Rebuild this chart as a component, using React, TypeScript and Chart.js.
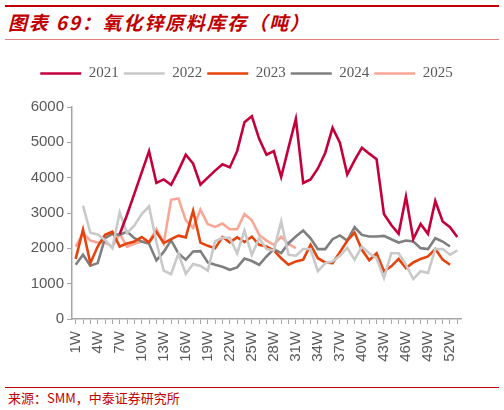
import React, { useEffect, useRef } from "react";
import { Chart, registerables } from "chart.js";

Chart.register(...registerables);

const weeks = [
  "1W","2W","3W","4W","5W","6W","7W","8W","9W","10W",
  "11W","12W","13W","14W","15W","16W","17W","18W","19W","20W",
  "21W","22W","23W","24W","25W","26W","27W","28W","29W","30W",
  "31W","32W","33W","34W","35W","36W","37W","38W","39W","40W",
  "41W","42W","43W","44W","45W","46W","47W","48W","49W","50W",
  "51W","52W","53W",
];

const y2021 = [
  null, null, null, null, null, null, 2400, 2950, 3550, 4150,
  4750, 3850, 3950, 3800, 4200, 4650, 4400, 3800, 4000, 4200,
  4380, 4290, 4750, 5570, 5740, 5100, 4650, 4750, 4020, 4850,
  5660, 3850, 3950, 4260, 4700, 5410, 4990, 4090, 4490, 4850,
  4680, 4520, 2970, 2660, 2410, 3460, 2260, 2690, 2410, 3340,
  2760, 2600, 2320,
];

const y2022 = [
  null, 3210, 2440, 2390, 2240, 2005, 3020, 2430, 2650, 2970,
  3190, 2170, 1370, 1270, 1850, 1280, 1560, 1500, 1370, 2200,
  2300, 2300, 1855, 2500, 1810, 2290, 1980, 1940, 2760, 1820,
  1790, 1980, 1980, 1350, 1580, 1630, 1790, 2010, 1680, 2050,
  1860, 1720, 1160, 1860, 1860, 1535, 1130, 1350, 1300, 1980,
  1980, 1820, 1940,
];

const y2023 = [
  1700, 2530, 1580, 2050, 2380, 2470, 2050, 2140, 2190, 2320,
  2170, 2460, 2150, 2260, 2360, 2310, 3065, 2160, 2070, 2005,
  2320, 2170, 2310, 2180, 2330, 2100, 2050, 1940, 1720, 1535,
  1630, 1680, 2100, 1720, 1600, 1580, 1890, 2215, 2446, 1960,
  1660, 1860, 1350, 1490, 1700, 1440, 1600, 1700, 1770, 1980,
  1680, 1535, null,
];

const y2024 = [
  1535, 1817, 1507, 1582, 2286, 2408, 2380, 2474, 2286, 2192,
  2127, 1657, 1900, 2230, 1855, 1676, 1911, 1920, 1600, 1535,
  1480, 1394, 1460, 1710, 1640, 1535, 1770, 1977, 1864, 2146,
  2333, 2502, 2286, 1977, 1977, 2258, 2365, 2220, 2597, 2380,
  2333, 2333, 2352, 2258, 2164, 2220, 2192, 2005, 1977, 2286,
  2192, 2051, null,
];

const y2025 = [
  2051, 2427, 2220, 2164, 2164, 2051, 2408, 2051, 2127, 2192,
  2192, 2540, 2146, 3375, 3413, 2790, 2580, 3095, 2680, 2605,
  2700, 2540, 2540, 2972, 2795, 2380, 2220, 2099, 2333, 2127,
  2005,
];

const seriesNames = ["2021", "2022", "2023", "2024", "2025"];
const seriesColors = ["#C4003C", "#C9C9C9", "#E6420C", "#7F7F7F", "#F9A696"];

export default function App() {
  const ref = useRef<HTMLCanvasElement | null>(null);

  useEffect(() => {
    document.body.style.margin = "0";
    const canvas = ref.current;
    if (!canvas) return;
    const values = [y2021, y2022, y2023, y2024, y2025];
    const legendSpace = {
      id: "legendSpace",
      beforeInit(chart: any) {
        const orig = chart.legend.fit;
        chart.legend.fit = function () {
          orig.bind(chart.legend)();
          this.height += 16;
        };
      },
      afterLayout(chart: any) {
        const lg = chart.legend;
        lg.left = 0;
        lg.right = 493;
      },
    };
    const chart = new Chart(canvas, {
      type: "line",
      data: {
        labels: weeks,
        datasets: seriesNames.map((n, i) => ({
          label: n,
          data: values[i],
          borderColor: seriesColors[i],
          backgroundColor: seriesColors[i],
          borderWidth: 2.6,
          pointRadius: 0,
          tension: 0,
          spanGaps: false,
        })),
      },
      options: {
        animation: false,
        responsive: false,
        maintainAspectRatio: false,
        layout: { padding: { left: 0, right: 43, top: 11, bottom: 0 } },
        plugins: {
          tooltip: { enabled: false },
          legend: {
            position: "top",
            labels: {
              usePointStyle: true,
              pointStyle: "line",
              pointStyleWidth: 41,
              boxHeight: 10,
              padding: 5,
              color: "#595959",
              font: { family: "'Liberation Serif', 'Times New Roman', serif", size: 15 },
            },
          },
        },
        scales: {
          x: {
            type: "category",
            offset: true,
            afterFit(s: any) {
              s.height = 50;
            },
            grid: {
              display: true,
              drawOnChartArea: false,
              drawTicks: true,
              tickLength: 5,
              color: "#A6A6A6",
              lineWidth: 1,
            },
            border: { display: true, color: "#A6A6A6", width: 1.5 },
            ticks: {
              autoSkip: false,
              maxRotation: 90,
              minRotation: 90,
              padding: 7,
              color: "#595959",
              font: { family: "'Liberation Sans', Arial, sans-serif", size: 15 },
              callback: (_v: any, i: number) => (i % 3 === 0 ? weeks[i] : ""),
            },
          },
          y: {
            min: 0,
            max: 6000,
            afterFit(s: any) {
              s.width = 72;
            },
            grid: {
              display: true,
              drawOnChartArea: false,
              drawTicks: true,
              tickLength: 5,
              color: "#A6A6A6",
              lineWidth: 1,
            },
            border: { display: true, color: "#A6A6A6", width: 1.5 },
            ticks: {
              stepSize: 1000,
              padding: 3,
              color: "#595959",
              font: { family: "'Liberation Sans', Arial, sans-serif", size: 15 },
              callback: (v: any) => String(v),
            },
          },
        },
      },
      plugins: [legendSpace],
    });
    return () => chart.destroy();
  }, []);

  return (
    <div style={{ position: "relative", width: 504, height: 410, background: "#fff", overflow: "hidden" }}>
      <div style={{ position: "absolute", left: 5, top: 5, width: 494, height: 2, background: "#C00000" }} />
      <div
        style={{
          position: "absolute",
          left: 8,
          top: 9,
          fontFamily: "'Noto Sans CJK SC', sans-serif",
          fontSize: 19,
          fontWeight: 700,
          fontStyle: "italic",
          color: "#C00000",
          letterSpacing: 1.8,
          whiteSpace: "nowrap",
          lineHeight: "26px",
        }}
      >
        图表 69：氧化锌原料库存（吨）
      </div>
      <div style={{ position: "absolute", left: 5, top: 39, width: 494, height: 1, background: "#E08080" }} />
      <canvas
        ref={ref}
        width={504}
        height={319}
        style={{ position: "absolute", left: 0, top: 50, width: 504, height: 319 }}
      />
      <div style={{ position: "absolute", left: 5, top: 387, width: 494, height: 1, background: "#C00000" }} />
      <div
        style={{
          position: "absolute",
          left: 8,
          top: 389,
          fontFamily: "'Noto Sans CJK SC', sans-serif",
          fontSize: 13,
          color: "#C00000",
          whiteSpace: "nowrap",
          lineHeight: "18px",
        }}
      >
        来源：SMM，中泰证券研究所
      </div>
    </div>
  );
}
